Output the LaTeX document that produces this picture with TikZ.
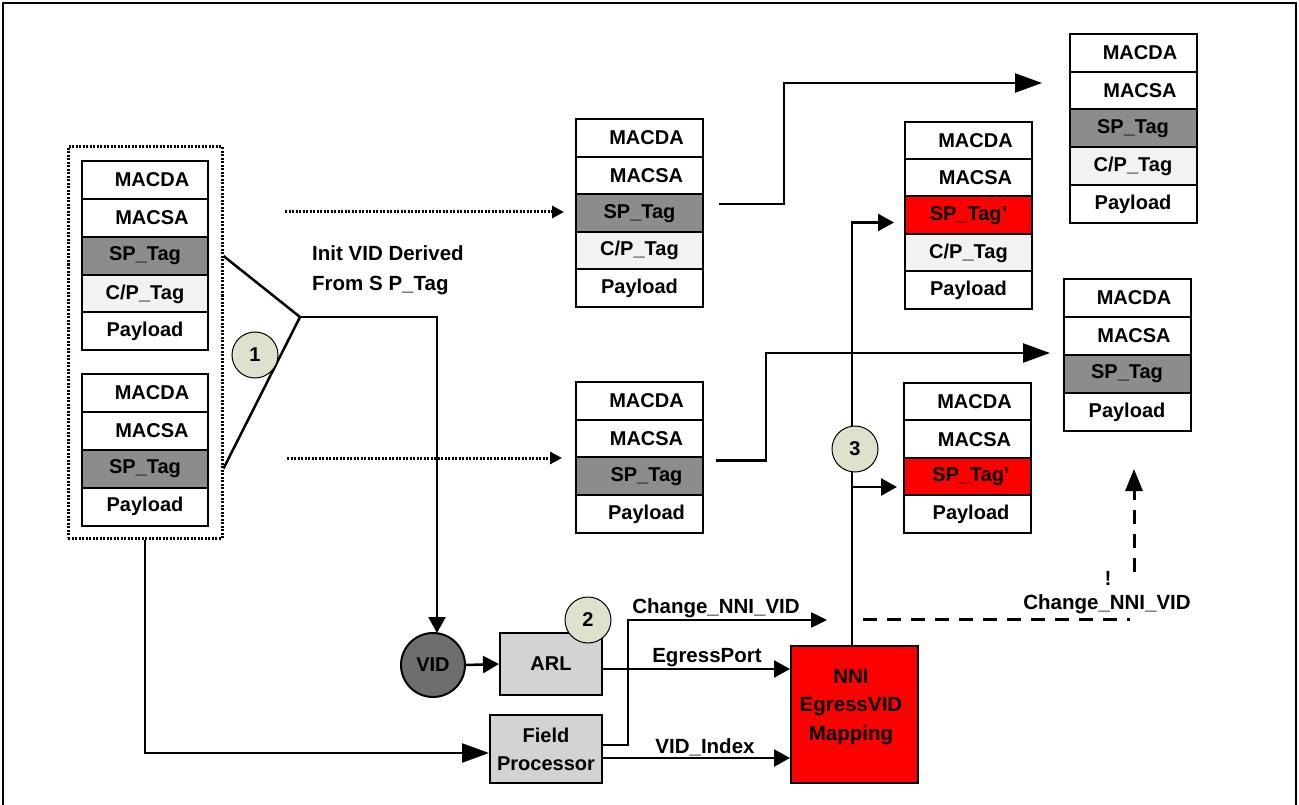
\documentclass[tikz,border=0pt]{standalone}
\usepackage{fontspec}
\setmainfont{Liberation Sans}
\usetikzlibrary{arrows.meta,positioning}
\definecolor{sgray}{HTML}{8C8C8C}
\definecolor{lgray}{HTML}{F2F2F2}
\definecolor{bgray}{HTML}{D3D3D3}
\definecolor{vgray}{HTML}{6E6E6E}
\definecolor{numc}{HTML}{DEE1CC}
\definecolor{nred}{HTML}{FF0000}
\newcommand{\rs}[1]{\hspace*{14pt}#1}
\newcommand{\rss}[1]{\hspace*{7pt}#1}
\tikzset{
  every node/.style={font=\bfseries\fontsize{20}{24}\selectfont},
  cell/.style={draw, line width=2pt, minimum width=127pt, minimum height=38pt, inner sep=0pt, fill=white},
  dk/.style={cell, fill=sgray},
  lt/.style={cell, fill=lgray},
  rd/.style={cell, fill=nred},
  num/.style={circle, draw, line width=1pt, fill=numc, minimum size=46pt, inner sep=0pt},
  conn/.style={line width=2.5pt},
  arr/.style={conn, -{Triangle[length=16pt,width=17pt]}},
  bigarr/.style={conn, -{Triangle[length=27pt,width=19pt]}},
  dotarr/.style={line width=3pt, dash pattern=on 2pt off 1.5pt, -{Triangle[length=12pt,width=12pt]}},
  dsh/.style={line width=3pt, dash pattern=on 14pt off 10pt},
  lbl/.style={font=\bfseries\fontsize{20.5}{30}\selectfont, inner sep=0pt},
  gbox/.style={draw, line width=2pt, fill=bgray, inner sep=0pt},
}
\begin{document}
\begin{tikzpicture}[x=1pt,y=-1pt]
\useasboundingbox (0,0) rectangle (1299,805);
% frame
\draw[line width=2pt] (3,806) -- (3,3) -- (1296,3) -- (1296,806);

% left group
\node[draw, line width=3pt, dash pattern=on 2pt off 1.5pt, minimum width=154pt, minimum height=391pt, inner sep=0pt] (grp) at (145,342.5) {};
\node[cell, minimum width=126pt] (A1) at (145,180) {\rs{MACDA}};
\node[cell, minimum width=126pt] (A2) at (145,218) {\rs{MACSA}};
\node[dk, minimum width=126pt] (A3) at (145,256) {SP\_Tag};
\node[lt, minimum width=126pt] (A4) at (145,294) {C/P\_Tag};
\node[cell, minimum width=126pt] (A5) at (145,331) {Payload};
\node[cell, minimum width=126pt] (B1) at (145,392.5) {\rs{MACDA}};
\node[cell, minimum width=126pt] (B2) at (145,430.5) {\rs{MACSA}};
\node[dk, minimum width=126pt] (B3) at (145,468.5) {SP\_Tag};
\node[cell, minimum width=126pt] (B4) at (145,506.5) {Payload};

% middle stacks
\node[cell] (M11) at (639.5,138) {\rs{MACDA}};
\node[cell] (M12) at (639.5,175.6) {\rs{MACSA}};
\node[dk] (M13) at (639.5,213.2) {SP\_Tag};
\node[lt] (M14) at (639.5,250.8) {C/P\_Tag};
\node[cell] (M15) at (639.5,288.4) {Payload};
\node[cell] (M21) at (639.5,400.9) {\rs{MACDA}};
\node[cell] (M22) at (639.5,438.6) {\rs{MACSA}};
\node[dk] (M23) at (639.5,476.4) {\rs{SP\_Tag}};
\node[cell] (M24) at (639.5,514.1) {\rs{Payload}};

% red-tag stacks
\node[cell] (R11) at (968.5,140.7) {\rs{MACDA}};
\node[cell] (R12) at (968.5,178.1) {\rs{MACSA}};
\node[rd] (R13) at (968.5,215.5) {SP\_Tag'};
\node[lt] (R14) at (968.5,252.9) {C/P\_Tag};
\node[cell] (R15) at (968.5,290.3) {Payload};
\node[cell] (R21) at (967.5,401.75) {\rs{MACDA}};
\node[cell] (R22) at (967.5,439.25) {\rs{MACSA}};
\node[rd] (R23) at (967.5,476.75) {\rss{SP\_Tag'}};
\node[cell] (R24) at (967.5,514.25) {\rss{Payload}};

% far right stacks
\node[cell] (F11) at (1133,52.9) {\rs{MACDA}};
\node[cell] (F12) at (1133,90.7) {\rs{MACSA}};
\node[dk] (F13) at (1133,128.5) {SP\_Tag};
\node[lt] (F14) at (1133,166.3) {C/P\_Tag};
\node[cell] (F15) at (1133,204.1) {Payload};
\node[cell] (F21) at (1127,298) {\rs{MACDA}};
\node[cell] (F22) at (1127,336) {\rs{MACSA}};
\node[dk] (F23) at (1127,374) {SP\_Tag};
\node[cell] (F24) at (1127,412) {Payload};

% lower blocks
\node[circle, draw, line width=2pt, fill=vgray, minimum size=64pt, inner sep=0pt] (VID) at (433,665) {VID};
\node[gbox, minimum width=102pt, minimum height=62pt] (ARL) at (551,664) {ARL};
\node[gbox, minimum width=112pt, minimum height=68pt, align=center, font=\bfseries\fontsize{20}{28}\selectfont] (FP) at (546,749) {Field\\Processor};
\node[draw, line width=2pt, fill=nred, minimum width=127pt, minimum height=137pt, inner sep=0pt] (NNI) at (854.5,714.5) {};
\node[align=center, font=\bfseries\fontsize{20.5}{28.5}\selectfont, inner sep=0pt] (NNIt) at (851,707) {NNI\\EgressVID\\Mapping};

% step 1 lines
\coordinate (apex) at (300,317);
\draw[conn] (grp.east |- A3) -- (apex) -- (grp.east |- B3);
\draw[arr] (apex) -- (437,317) -- (437,633);
\node[num] (n1) at (255,355) {1};
\node[lbl, align=left, anchor=west] (init) at (312,270) {Init VID Derived\\From S P\_Tag};

% dotted arrows
\coordinate (d1) at (285,212);
\coordinate (d2) at (287,458);
\draw[dotarr, shorten >=11pt] (d1) -- (d1 -| M13.west);
\draw[dotarr, shorten >=13pt] (d2) -- (d2 -| M23.west);

% forward paths to far right
\coordinate (e1) at (1042,83);
\coordinate (e2) at (1050,353);
\draw[bigarr] ([xshift=15pt,yshift=9pt]M13.east) -| (784,83) -- (e1);
\draw[bigarr] ([xshift=12pt,yshift=16pt]M23.east) -| (766,353) -- (e2);

% lower connectors
\draw[arr] (VID.east) -- (ARL.west);
\node[num] (n2) at (588,620) {2};
\draw[bigarr] (grp.south) |- ([yshift=-4pt]FP.west);
\draw[arr] ([yshift=-5pt]ARL.east) -- ([yshift=-5pt]ARL.east -| NNI.west);
\draw[arr] ([yshift=-9pt]FP.east) -- ([yshift=-9pt]FP.east -| NNI.west);
\coordinate (c1) at (827,620);
\draw[conn, -{Triangle[length=16pt,width=15pt]}] ([yshift=4pt]FP.east) -- ++(25,0) |- (c1);
\node[lbl] (lc) at (716,608) {Change\_NNI\_VID};
\node[lbl] (lep) at (707,658) {EgressPort};
\node[lbl] (lvi) at (705,747) {VID\_Index};

% NNI upward
\draw[arr, shorten >=10pt] (852,646) |- ([yshift=-7pt]R13.west);
\draw[arr, shorten >=6pt] (852,487) -- (852,487 -| R23.west);
\node[num] (n3) at (855,449) {3};

% dashed Change_NNI_VID
\coordinate (ds) at (863,619);
\coordinate (de) at (1130,619);
\coordinate (dv) at (1134,572);
\draw[dsh] (ds) -- (de);
\draw[dsh, -{Triangle[length=22pt,width=17pt]}, shorten >=37pt] (dv) -- (dv |- F24.south);
\node[lbl] (lex) at (1108,578) {!};
\node[lbl] (lc2) at (1107,604) {Change\_NNI\_VID};
\end{tikzpicture}
\end{document}
